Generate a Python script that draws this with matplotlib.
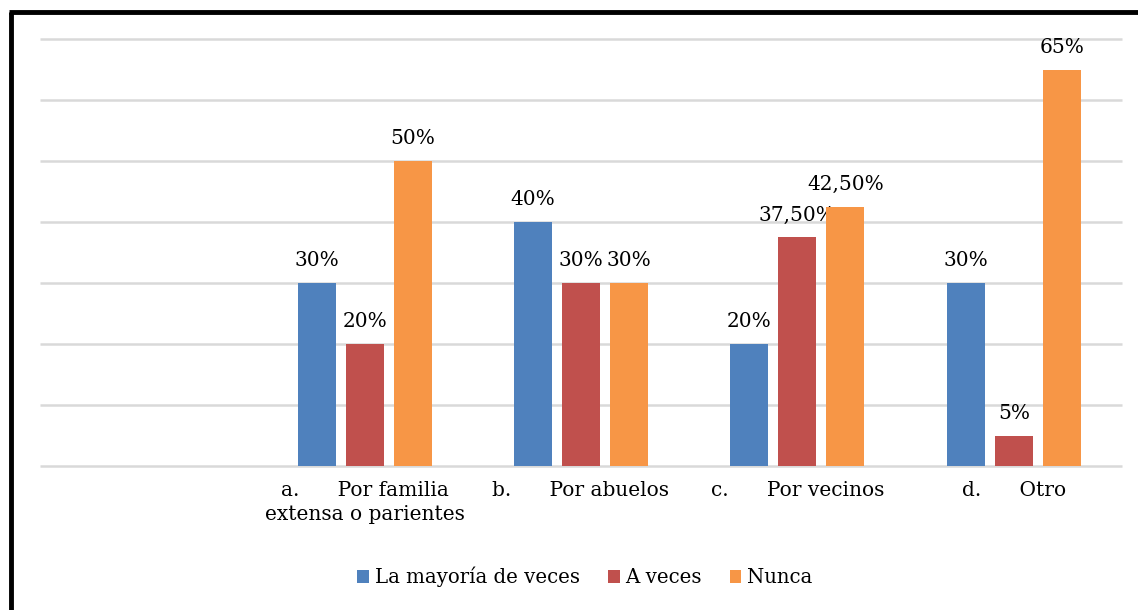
import matplotlib.pyplot as plt
import numpy as np

categorias = ["", "a.      Por familia\nextensa o parientes", "b.      Por abuelos",
              "c.      Por vecinos", "d.      Otro"]
series = ["La mayoría de veces", "A veces", "Nunca"]
mayoria = [np.nan, 0.30, 0.40, 0.20, 0.30]
a_veces = [np.nan, 0.20, 0.30, 0.375, 0.05]
nunca = [np.nan, 0.50, 0.30, 0.425, 0.65]
etiquetas = [
    ["", "30%", "40%", "20%", "30%"],
    ["", "20%", "30%", "37,50%", "5%"],
    ["", "50%", "30%", "42,50%", "65%"],
]
colores = ["#4F81BD", "#C0504D", "#F79646"]

plt.rcParams['font.family'] = ['DejaVu Serif']

fig = plt.figure(figsize=(11.38, 6.10), dpi=100)
ax = fig.add_axes([40 / 1138, 1 - 466 / 610, 1082 / 1138, 427 / 610])

x = np.arange(len(categorias))
ancho = 0.176
paso = 0.222
for i, (vals, nombre, c) in enumerate(zip([mayoria, a_veces, nunca], series, colores)):
    pos = x + (i - 1) * paso
    ax.bar(pos, vals, ancho, color=c, label=nombre, zorder=3)
    for p, v, t in zip(pos, vals, etiquetas[i]):
        if t:
            ax.text(p, v + 0.021, t, ha='center', va='bottom', fontsize=14.5)

ax.set_xlim(-0.5, len(categorias) - 0.5)
ax.set_ylim(0, 0.70)
ax.set_yticks(np.arange(0, 0.71, 0.10))
ax.yaxis.grid(True, color='#D9D9D9', linewidth=1.8, zorder=0)
for gl in ax.get_ygridlines():
    gl.set_clip_on(False)
    gl.set_solid_capstyle('butt')
ax.tick_params(axis='y', length=0, labelleft=False)
ax.set_xticks(x)
ax.set_xticklabels(categorias, fontsize=14.5, linespacing=1.3)
ax.tick_params(axis='x', length=0, pad=11)
for s in ax.spines.values():
    s.set_visible(False)

ax.legend(loc='center', bbox_to_anchor=(545 / 1082, -111 / 427), ncol=3, frameon=False,
          fontsize=14.2, handlelength=0.6, handleheight=0.6, handletextpad=0.3, columnspacing=1.4)

# borde negro arriba e izquierda
fig.add_artist(plt.Line2D([10.5 / 1138, 10.5 / 1138], [0, 1 - 11.5 / 610], color='black',
                          linewidth=3.5, solid_capstyle='butt', transform=fig.transFigure))
fig.add_artist(plt.Line2D([9 / 1138, 1], [1 - 11.5 / 610, 1 - 11.5 / 610], color='black',
                          linewidth=3.5, solid_capstyle='butt', transform=fig.transFigure))

fig.savefig("out.png", dpi=100)
